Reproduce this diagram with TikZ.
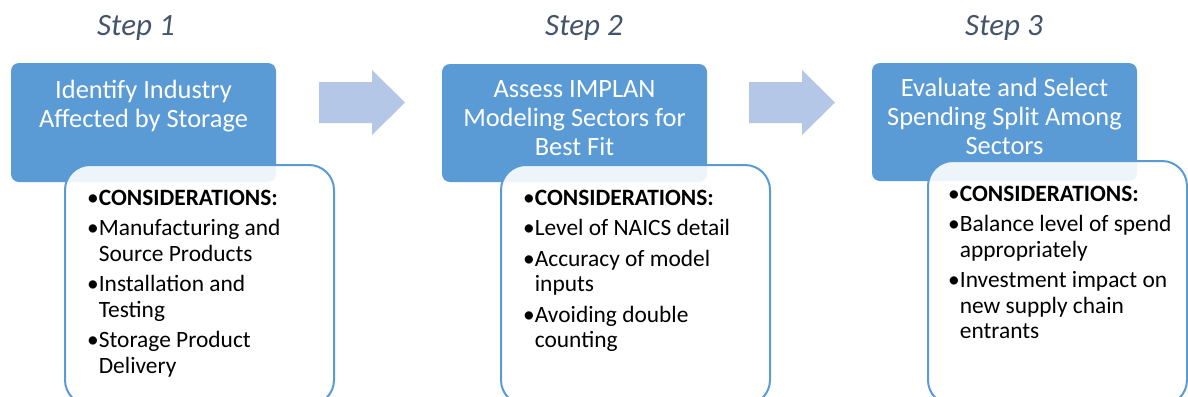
\documentclass[tikz,border=0pt]{standalone}
\usepackage{fontspec}
\setmainfont{Carlito}
\usetikzlibrary{calc}
\definecolor{boxblue}{HTML}{5B9BD5}
\definecolor{arrowblue}{HTML}{B4C7E7}
\definecolor{stepgray}{HTML}{44546A}
\newcommand{\panah}[1]{\fill[arrowblue] (#1,82) -- ++(53,0) -- ++(0,-12) -- ++(33,32.5) -- ++(-33,32.5) -- ++(0,-12) -- ++(-53,0) -- cycle;}
\tikzset{
  steplabel/.style={anchor=base,text=stepgray,font=\fontsize{31bp}{36bp}\selectfont\itshape},
  headtext/.style={anchor=base,align=center,text=white,inner sep=0pt,font=\fontsize{26.4bp}{29bp}\selectfont},
  listtext/.style={anchor=base west,inner sep=0pt,font=\fontsize{23.4bp}{25.5bp}\selectfont},
  bluebox/.style={fill=boxblue,rounded corners=8bp},
  notebox/.style={draw=boxblue,line width=2bp,fill=white,fill opacity=0.9,rounded corners=25bp}
}

\begin{document}
\begin{tikzpicture}[x=1bp,y=-1bp]
  \useasboundingbox (0,0) rectangle (1188,396);
  \clip (0,0) rectangle (1188,396);

  \coordinate (S1) at (136,35);
  \coordinate (S2) at (584,35);
  \coordinate (S3) at (1004,35);

  \node[steplabel] (step1) at (S1) {Step 1};
  \node[steplabel] (step2) at (S2) {Step 2};
  \node[steplabel] (step3) at (S3) {Step 3};

  \panah{319}
  \panah{749}

  \fill[bluebox] (11,63) rectangle (276,182);
  \fill[bluebox] (442,64) rectangle (707,182);
  \fill[bluebox] (872,63) rectangle (1137,181);

  \draw[notebox] (65,165) rectangle (334,405);
  \draw[notebox] (501,165) rectangle (770,405);
  \draw[notebox] (928,161) rectangle (1187,405);

  \node[headtext] (head1) at (143.5,127) {Identify Industry\\Affected by Storage};
  \node[headtext] (head2) at (574.5,155) {Assess IMPLAN\\Modeling Sectors for\\Best Fit};
  \node[headtext] (head3) at (1004.5,154) {Evaluate and Select\\Spending Split Among\\Sectors};

  \node[listtext] (list1) at (87,205) {\begin{tabular}[t]{@{}l@{}l@{}}
    \textbullet&\textbf{CONSIDERATIONS:}\\[5bp]
    \textbullet&Manufacturing and\\
    &Source Products\\[5bp]
    \textbullet&Installation and\\
    &Testing\\[5bp]
    \textbullet&Storage Product\\
    &Delivery
  \end{tabular}};
  \node[listtext] (list2) at (523,205) {\begin{tabular}[t]{@{}l@{}l@{}}
    \textbullet&\textbf{CONSIDERATIONS:}\\[5bp]
    \textbullet&Level of NAICS detail\\[5bp]
    \textbullet&Accuracy of model\\
    &inputs\\[5bp]
    \textbullet&Avoiding double\\
    &counting
  \end{tabular}};
  \node[listtext] (list3) at (948,201) {\begin{tabular}[t]{@{}l@{}l@{}}
    \textbullet&\textbf{CONSIDERATIONS:}\\[5bp]
    \textbullet&Balance level of spend\\
    &appropriately\\[5bp]
    \textbullet&Investment impact on\\
    &new supply chain\\
    &entrants
  \end{tabular}};
\end{tikzpicture}
\end{document}
